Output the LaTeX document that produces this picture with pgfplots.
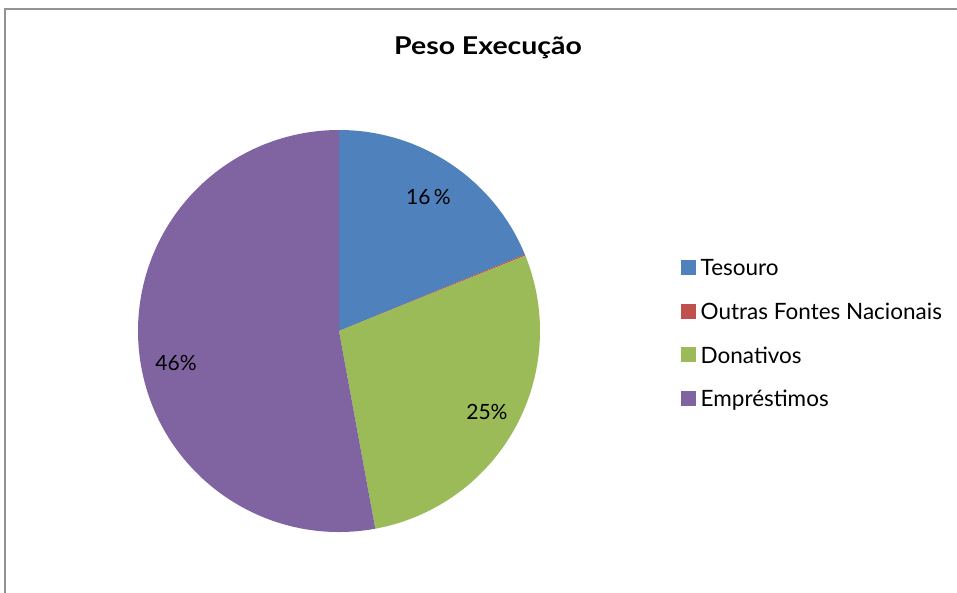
\documentclass[border=0pt]{standalone}
\usepackage{fontspec}
\setmainfont{Lato}
\usepackage{pgfplots}
\usepackage{pgfplotstable}
\pgfplotsset{compat=1.18}
\pgfplotsset{quadrado/.style={legend image code/.code={\fill[##1] (0pt,-6.5pt) rectangle (15pt,8.5pt);}}}

\definecolor{tesouro}{HTML}{4F81BD}
\definecolor{outras}{HTML}{C0504D}
\definecolor{donativos}{HTML}{9BBB59}
\definecolor{emprestimos}{HTML}{8064A2}

% fatias (percentagem do circulo), cor, rotulo, raio e desvio angular do rotulo
\pgfplotstableread{
valor cor rotulo raio desvio
18.78 tesouro 16\, 0.80 0
0.10 outras - 0 0
28.23 donativos 25 0.84 0
52.89 emprestimos 46 0.826 5.8
}\pesodata

\begin{document}
\begin{tikzpicture}
\useasboundingbox (0pt,0pt) rectangle (957pt,592pt);
\draw[gray!85, line width=1.2pt] (5pt,-5pt) -- (5pt,583pt) -- (965pt,583pt);
\node[font=\bfseries\fontsize{24.5}{28}\selectfont, anchor=base, xscale=1.16, transform shape]
  at (488pt,537.7pt) {Peso Execução};

\begin{axis}[
    hide axis,
    scale only axis,
    width=402pt, height=402pt,
    xmin=-1, xmax=1, ymin=-1, ymax=1,
    at={(339pt,261pt)}, anchor=center,
    legend cell align=left,
    legend style={at={(axis description cs:1.3507,0.4923)}, anchor=west,
        draw=none, fill=none, inner sep=0pt, row sep=21.7pt, column sep=2.5pt,
        font=\fontsize{22.5}{26}\selectfont},
  ]
  \pgfplotsextra{%
    \pgfplotstablegetrowsof{\pesodata}%
    \pgfmathtruncatemacro\ultima{\pgfplotsretval-1}%
    \gdef\ini{90}%
    \foreach \i in {0,...,\ultima}{%
      \pgfplotstablegetelem{\i}{valor}\of\pesodata \let\val\pgfplotsretval
      \pgfplotstablegetelem{\i}{cor}\of\pesodata \let\cor\pgfplotsretval
      \pgfmathsetmacro\fim{\ini-3.6*\val}%
      \pgfmathsetmacro\xa{cos(\ini)}%
      \pgfmathsetmacro\ya{sin(\ini)}%
      \fill[\cor] (axis cs:0,0) -- (axis cs:\xa,\ya)
        arc[start angle=\ini, end angle=\fim, radius=201pt] -- cycle;
      \xdef\ini{\fim}%
    }%
    \gdef\ini{90}%
    \foreach \i in {0,...,\ultima}{%
      \pgfplotstablegetelem{\i}{valor}\of\pesodata \let\val\pgfplotsretval
      \pgfplotstablegetelem{\i}{rotulo}\of\pesodata \let\rot\pgfplotsretval
      \pgfplotstablegetelem{\i}{raio}\of\pesodata \let\raio\pgfplotsretval
      \pgfplotstablegetelem{\i}{desvio}\of\pesodata \let\desv\pgfplotsretval
      \pgfmathsetmacro\fim{\ini-3.6*\val}%
      \pgfmathsetmacro\meio{\ini-1.8*\val+\desv}%
      \pgfmathsetmacro\xm{\raio*cos(\meio)}%
      \pgfmathsetmacro\ym{\raio*sin(\meio)}%
      \pgfmathparse{\raio>0}%
      \ifnum\pgfmathresult=1
        \node[font=\fontsize{21}{24}\selectfont] at (axis cs:\xm,\ym) {\rot\%};
      \fi
      \xdef\ini{\fim}%
    }%
  }
  \addlegendimage{quadrado, fill=tesouro, draw=none}
  \addlegendentry{Tesouro}
  \addlegendimage{quadrado, fill=outras, draw=none}
  \addlegendentry{Outras Fontes Nacionais}
  \addlegendimage{quadrado, fill=donativos, draw=none}
  \addlegendentry{Donativos}
  \addlegendimage{quadrado, fill=emprestimos, draw=none}
  \addlegendentry{Empréstimos}
\end{axis}
\end{tikzpicture}
\end{document}
